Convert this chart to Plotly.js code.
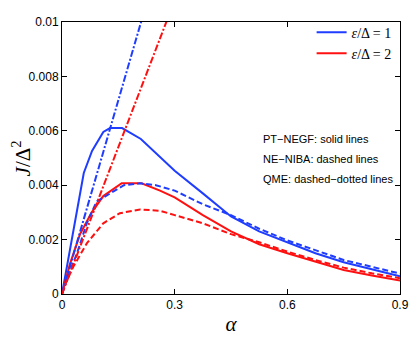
<!DOCTYPE html>
<html>
<head>
<meta charset="utf-8">
<script src="https://cdn.plot.ly/plotly-3.0.1.min.js"></script>
<style>
  html, body { margin: 0; padding: 0; background: #fff; }
  #chart { width: 415px; height: 347px; }
</style>
</head>
<body>
<div id="chart"></div>
<script>
// PT-NEGF (solid)
const negf1X = [0, 0.058, 0.08, 0.11, 0.128, 0.16, 0.21, 0.3, 0.375, 0.45, 0.525, 0.6, 0.675, 0.75, 0.825, 0.9];
const negf1Y = [0, 0.00445, 0.00526, 0.00596, 0.0061, 0.0061, 0.0057, 0.00453, 0.0037, 0.00285, 0.0023, 0.0019, 0.0015, 0.00117, 0.0009, 0.00065];
const negf2X = [0, 0.021, 0.048, 0.079, 0.11, 0.159, 0.212, 0.261, 0.3, 0.375, 0.45, 0.525, 0.6, 0.675, 0.75, 0.825, 0.9];
const negf2Y = [0, 0.0011, 0.0022, 0.003, 0.0036, 0.00407, 0.00407, 0.0038, 0.00355, 0.0029, 0.0023, 0.00183, 0.0015, 0.00118, 0.00088, 0.00068, 0.0005];

// NE-NIBA (dashed)
const niba1X = [0, 0.02, 0.04, 0.066, 0.092, 0.128, 0.165, 0.208, 0.25, 0.3, 0.375, 0.45, 0.525, 0.6, 0.675, 0.75, 0.825, 0.9];
const niba1Y = [0, 0.0008, 0.0015, 0.0026, 0.0034, 0.0037, 0.004, 0.00407, 0.004, 0.0038, 0.0033, 0.0029, 0.0024, 0.00197, 0.0016, 0.00125, 0.001, 0.00075];
const niba2X = [0, 0.01, 0.03, 0.066, 0.11, 0.154, 0.208, 0.261, 0.3, 0.375, 0.45, 0.525, 0.6, 0.675, 0.75, 0.825, 0.9];
const niba2Y = [0, 0.0004, 0.001, 0.00186, 0.0026, 0.00297, 0.00311, 0.00306, 0.0029, 0.0026, 0.0022, 0.0019, 0.00156, 0.00125, 0.00097, 0.00076, 0.00058];

// QME (dash-dot), runs off the top
const qmeX = [0, 0.1, 0.2, 0.3];
const qme1Y = [0, 0.00475, 0.0095, 0.01425];
const qme2Y = [0, 0.0036, 0.0072, 0.0108];

const yTicks = [0, 0.002, 0.004, 0.006, 0.008, 0.01];
const yTickText = ['0', '0.002', '0.004', '0.006', '0.008', '0.01'];
const xTicks = [0, 0.3, 0.6, 0.9];
const xTickText = ['0', '0.3', '0.6', '0.9'];

const blue = '#1f3dff';
const red = '#ff1010';
const dashed = '6px,3px';
const dashDot = '7px,2px,2px,2px';

const traces = [
  { x: negf1X, y: negf1Y, mode: 'lines', name: '<i>ε</i>/Δ = 1', line: { color: blue, width: 2 } },
  { x: negf2X, y: negf2Y, mode: 'lines', name: '<i>ε</i>/Δ = 2', line: { color: red, width: 2 } },
  { x: niba1X, y: niba1Y, mode: 'lines', showlegend: false, line: { color: blue, width: 2, dash: dashed } },
  { x: niba2X, y: niba2Y, mode: 'lines', showlegend: false, line: { color: red, width: 2, dash: dashed } },
  { x: qmeX, y: qme1Y, mode: 'lines', showlegend: false, line: { color: blue, width: 2, dash: dashDot } },
  { x: qmeX, y: qme2Y, mode: 'lines', showlegend: false, line: { color: red, width: 2, dash: dashDot } }
];

const axisCommon = {
  showgrid: false,
  zeroline: false,
  showline: true,
  linecolor: '#000',
  linewidth: 1,
  mirror: 'ticks',
  ticks: 'inside',
  ticklen: 5,
  tickcolor: '#000',
  tickfont: { family: 'Liberation Sans, Arial, sans-serif', size: 12, color: '#000' }
};

const noteFont = { family: 'Liberation Sans, Arial, sans-serif', size: 11, color: '#000' };
const notes = ['PT−NEGF: solid lines', 'NE−NIBA: dashed lines', 'QME: dashed−dotted lines'];

const layout = {
  width: 415,
  height: 347,
  margin: { l: 62, r: 15, t: 22, b: 53 },
  paper_bgcolor: '#fff',
  plot_bgcolor: '#fff',
  showlegend: true,
  legend: {
    x: 0.99, y: 1.02, xanchor: 'right', yanchor: 'top',
    bgcolor: 'rgba(0,0,0,0)',
    font: { family: 'Liberation Serif, serif', size: 14, color: '#000' },
    tracegroupgap: 0,
    itemwidth: 30
  },
  xaxis: Object.assign({}, axisCommon, {
    range: [0, 0.9],
    tickvals: xTicks,
    ticktext: xTickText,
    title: { text: '<i>α</i>', font: { family: 'Liberation Serif, serif', size: 21, color: '#000' }, standoff: 4 }
  }),
  yaxis: Object.assign({}, axisCommon, {
    range: [0, 0.01],
    tickvals: yTicks,
    ticktext: yTickText
  }),
  annotations: notes.map((t, i) => ({
    text: t, xref: 'paper', yref: 'paper',
    x: 0.59, y: 0.57 - i * 0.074,
    xanchor: 'left', yanchor: 'middle',
    showarrow: false, font: noteFont
  })).concat([{
    // y-axis title, placed by hand to sit close to the tick labels
    text: '<i>J</i>/Δ<sup>2</sup>', xref: 'paper', yref: 'paper',
    x: -0.12, y: 0.5, xanchor: 'center', yanchor: 'middle', textangle: -90,
    showarrow: false, font: { family: 'Liberation Serif, serif', size: 21, color: '#000' }
  }])
};

Plotly.newPlot('chart', traces, layout, { displayModeBar: false, staticPlot: true });
</script>
</body>
</html>
